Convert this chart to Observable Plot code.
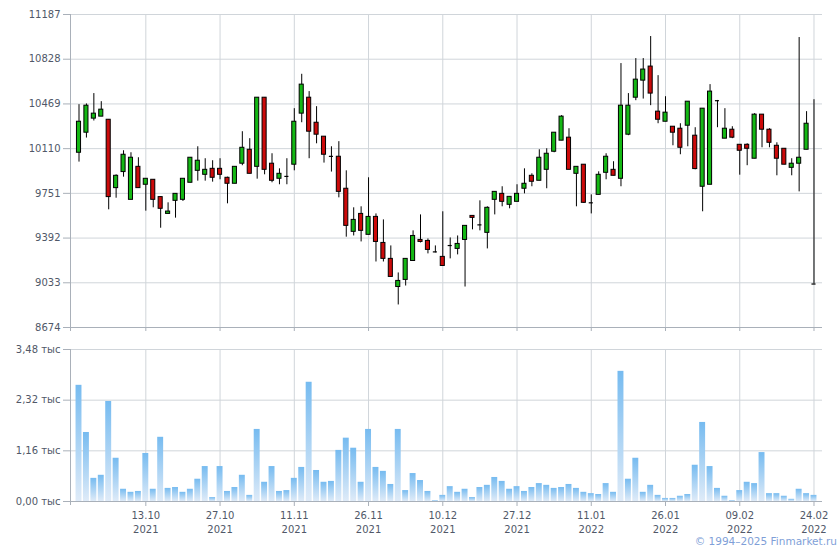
<!DOCTYPE html>
<html>
<head>
<meta charset="utf-8">
<script src="https://cdn.jsdelivr.net/npm/d3@7"></script>
<script src="https://cdn.jsdelivr.net/npm/@observablehq/plot@0.6"></script>
<style>
  html, body { margin: 0; padding: 0; background: #fff; }
  #wrap { position: relative; width: 840px; height: 550px; overflow: hidden; font-family: "DejaVu Sans", sans-serif; }
  #top, #bottom { position: absolute; left: 0; }
  #top { top: 0; }
  #bottom { top: 338px; }
  #copy { position: absolute; right: 3px; top: 535px; font-size: 10.5px; color: #7f9fd8; white-space: nowrap; }
</style>
</head>
<body>
<div id="wrap">
  <div id="top"></div>
  <div id="bottom"></div>
  <div id="copy">© 1994–2025 Finmarket.ru</div>
</div>
<script>
// Daily candles, 30.09.2021 – 24.02.2022 (100 trading sessions)
const open  = [10077,10238,10351,10367,10342,9793,9922,9699,9964,9820,
               9860,9721,9586,9691,9699,9836,9932,9900,9948,9948,
               9876,9828,9989,10101,9964,10519,9989,9868,9887,9981,
               10391,10519,10318,10206,10048,10045,9788,9442,9586,9418,
               9562,9353,9225,8999,9056,9208,9377,9369,9281,9241,
               9332,9305,9377,9570,9498,9434,9699,9747,9659,9683,
               9788,9892,9852,9940,10085,10174,10198,9908,9981,9675,
               9739,9916,9940,9868,10222,10519,10656,10769,10407,10326,
               10286,10270,10294,10214,9804,9820,10495,10190,10262,10141,
               10141,10029,10383,10262,10133,10109,9956,9989,10101,9023];
const high  = [10463,10469,10552,10487,10342,9900,10093,10077,10037,9868,
               9860,9721,9675,9747,9868,10037,10125,10029,10013,10029,
               9881,9964,10246,10190,10519,10519,10069,9948,10029,10431,
               10707,10568,10447,10206,10125,10166,9932,9635,9643,9876,
               9586,9538,9329,9112,9225,9450,9578,9385,9329,9603,
               9393,9409,9490,9570,9691,9643,9763,9804,9723,9820,
               9948,9908,10101,10109,10238,10375,10270,9964,9981,9739,
               9924,10069,10005,10793,10552,10833,10833,11010,10696,10527,
               10286,10310,10487,10278,10431,10624,10497,10431,10286,10141,
               10149,10391,10383,10270,10157,10109,10029,11002,10407,10503];
const low   = [10002,10195,10332,10367,9619,9712,9881,9699,9793,9608,
               9635,9471,9586,9552,9686,9836,9849,9849,9841,9860,
               9667,9828,9973,9908,9865,9900,9836,9820,9820,9932,
               10318,10029,10149,9994,9922,9715,9399,9409,9361,9418,
               9200,9200,9080,8855,9007,9208,9353,9265,9273,9168,
               9225,9257,8999,9458,9450,9305,9578,9643,9627,9683,
               9747,9804,9852,9788,10077,10174,9940,9643,9670,9586,
               9739,9860,9892,9804,10214,10495,10508,10455,10310,10326,
               10133,10061,10125,9940,9603,9820,10278,10190,10190,9897,
               9973,10029,10117,10117,9892,9981,9892,9763,10101,9023];
const close = [10326,10455,10391,10423,9721,9892,10061,10037,9793,9868,
               9699,9627,9605,9747,9868,10037,10013,9940,9876,9900,
               9828,9964,10117,9908,10519,9940,9852,9908,9887,10326,
               10624,10246,10222,10061,10048,9763,9490,9538,9450,9562,
               9361,9225,9080,9048,9225,9409,9361,9297,9281,9168,
               9332,9345,9490,9554,9498,9635,9763,9683,9723,9747,
               9828,9844,10037,10069,10238,10367,9940,9964,9675,9675,
               9900,10045,9892,10455,10455,10664,10745,10552,10342,10399,
               10238,10117,10487,9946,10431,10568,10495,10270,10198,10093,
               10109,10383,10262,10157,10029,9981,9989,10037,10310,9023];
// Volume, thousands
const volume = [2.66,1.58,0.53,0.60,2.29,0.99,0.28,0.21,0.23,1.10,
                0.28,1.47,0.30,0.32,0.21,0.28,0.51,0.80,0.09,0.80,
                0.23,0.32,0.60,0.14,1.65,0.44,0.80,0.23,0.25,0.53,
                0.78,2.73,0.71,0.44,0.46,1.17,1.45,1.22,0.44,1.65,
                0.78,0.69,0.39,1.65,0.25,0.64,0.48,0.23,0.02,0.14,
                0.34,0.21,0.28,0.09,0.32,0.37,0.55,0.46,0.28,0.34,
                0.23,0.32,0.41,0.37,0.30,0.32,0.39,0.30,0.21,0.18,
                0.16,0.41,0.21,2.98,0.51,0.99,0.21,0.37,0.14,0.07,
                0.07,0.12,0.16,0.83,1.81,0.80,0.30,0.12,0.02,0.25,
                0.44,0.41,1.12,0.18,0.18,0.12,0.05,0.28,0.18,0.14];

const priceTicks = [8674, 9033, 9392, 9751, 10110, 10469, 10828, 11187];
const volumeTicks = [0, 1.16, 2.32, 3.48];
const tickIndex = [9, 19, 29, 39, 49, 59, 69, 79, 89, 99];
const tickDay  = ["13.10","27.10","11.11","26.11","10.12","27.12","11.01","26.01","09.02","24.02"];
const tickYear = ["2021","2021","2021","2021","2021","2021","2022","2022","2022","2022"];

const idx = d3.range(open.length);
const candles = idx.map(i => ({i, o: open[i], h: high[i], l: low[i], c: close[i], v: volume[i]}));

const GRID = "#d0d5da";
const AXIS = "#a9b0b9";
const TEXT = "#505868";
const UP = "#14b814";
const DOWN = "#cc0a0a";

function leftLine(color) {
  return (index, scales, values, dims) => {
    const g = d3.create("svg:line")
      .attr("x1", dims.marginLeft + 0.5).attr("x2", dims.marginLeft + 0.5)
      .attr("y1", dims.marginTop).attr("y2", dims.height - dims.marginBottom + 4)
      .attr("stroke", color);
    return g.node();
  };
}

const style = {fontFamily: "DejaVu Sans, sans-serif", fontSize: "10px", color: TEXT, background: "transparent", overflow: "visible"};

const topPlot = Plot.plot({
  width: 840, height: 338,
  marginTop: 14, marginBottom: 11, marginLeft: 70, marginRight: 18,
  style,
  x: {type: "band", domain: idx, paddingInner: 0.45, paddingOuter: 0.87, axis: null, label: null},
  y: {domain: [8674, 11187], axis: null, label: null},
  marks: [
    Plot.gridY(priceTicks, {stroke: GRID, strokeOpacity: 1}),
    Plot.gridX(tickIndex, {stroke: GRID, strokeOpacity: 1}),
    Plot.axisY(priceTicks, {tickSize: 7, tickPadding: 3, stroke: AXIS, fill: TEXT, label: null, tickFormat: d => String(d)}),
    Plot.axisX(tickIndex, {tickSize: 4, stroke: AXIS, label: null, tickFormat: () => ""}),
    Plot.ruleY([8674], {stroke: AXIS}),
    leftLine(AXIS),
    Plot.ruleX(candles, {x: "i", y1: "l", y2: "h", stroke: "#000", strokeWidth: 1}),
    Plot.barY(candles.filter(d => d.o !== d.c), {x: "i", y1: "o", y2: "c", fill: d => d.c > d.o ? UP : DOWN, stroke: "#000", strokeWidth: 1}),
    Plot.tickY(candles.filter(d => d.o === d.c), {x: "i", y: "c", stroke: "#000", strokeWidth: 1.2})
  ]
});
document.getElementById("top").append(topPlot);

const dayOf = new Map(tickIndex.map((t, k) => [t, tickDay[k] + "\n" + tickYear[k]]));

const bottomPlot = Plot.plot({
  width: 840, height: 201,
  marginTop: 11, marginBottom: 38, marginLeft: 70, marginRight: 18,
  style,
  x: {type: "band", domain: idx, paddingInner: 0.2, paddingOuter: 0.745, axis: null, label: null},
  y: {domain: [0, 3.48], axis: null, label: null},
  marks: [
    Plot.gridY(volumeTicks, {stroke: GRID, strokeOpacity: 1}),
    Plot.gridX(tickIndex, {stroke: GRID, strokeOpacity: 1}),
    Plot.axisY(volumeTicks, {tickSize: 7, tickPadding: 3, stroke: AXIS, fill: TEXT, label: null,
      tickFormat: d => d.toFixed(2).replace(".", ",") + " тыс"}),
    Plot.barY(candles, {x: "i", y: "v", fill: "url(#volGrad)"}),
    Plot.axisX(tickIndex, {tickSize: 5, tickPadding: 3, stroke: AXIS, fill: TEXT, lineHeight: 1.4, label: null,
      tickFormat: i => dayOf.get(i)}),
    Plot.ruleY([0], {stroke: AXIS}),
    leftLine(AXIS)
  ]
});
const defs = d3.select(bottomPlot).insert("defs", ":first-child");
const grad = defs.append("linearGradient").attr("id", "volGrad")
  .attr("x1", 0).attr("y1", 0).attr("x2", 0).attr("y2", 1);
grad.append("stop").attr("offset", "0%").attr("stop-color", "#76bbf0");
grad.append("stop").attr("offset", "100%").attr("stop-color", "#dfebf8");
document.getElementById("bottom").append(bottomPlot);
</script>
</body>
</html>
